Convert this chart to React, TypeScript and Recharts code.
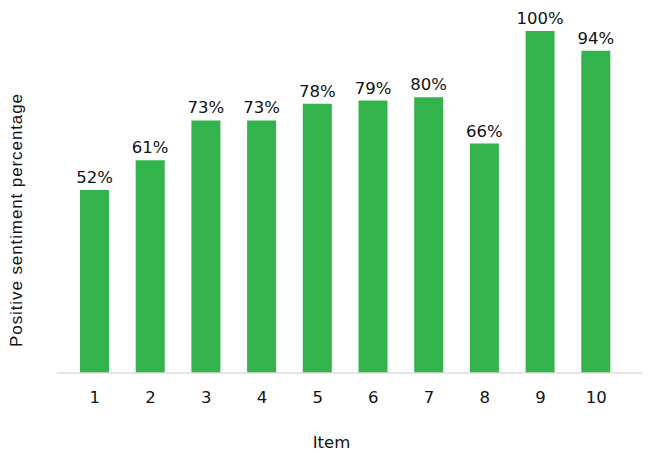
import React from "react";
import { BarChart, Bar, XAxis, YAxis, LabelList, Label } from "recharts";

const items = ["1", "2", "3", "4", "5", "6", "7", "8", "9", "10"];
const sentiment = [52, 61, 73, 73, 78, 79, 80, 66, 100, 94];
const AXIS_MIN = -3.25;
const AXIS_MAX = 100;

const data = items.map((item, i) => ({ item, value: sentiment[i] }));

const GREEN = "#33b34b";
const LABEL_FONT = "'DejaVu Sans', sans-serif";

export default function App() {
  return (
    <BarChart
      width={650}
      height={454}
      data={data}
      margin={{ top: 23, right: 16, bottom: 29, left: 49 }}
      barCategoryGap={0}
    >
      <YAxis hide domain={[AXIS_MIN, AXIS_MAX]} allowDataOverflow />
      <XAxis
        dataKey="item"
        height={60}
        padding={{ left: 10, right: 18 }}
        axisLine={{ stroke: "#dcdcdc", strokeWidth: 1.5 }}
        tickLine={false}
        tickMargin={12}
        interval={0}
        tick={{ fill: "#111", fontSize: 16.5, fontFamily: LABEL_FONT }}
      >
        <Label
          value="Item"
          position="bottom"
          offset={3}
          dx={-18}
          style={{ fill: "#111", fontSize: 16.5, fontFamily: LABEL_FONT }}
        />
      </XAxis>
      <text
        x={14}
        y={212}
        transform="rotate(-90 14 212)"
        textAnchor="middle"
        style={{ fill: "#111", fontSize: 17, fontFamily: "'Liberation Sans', Arial, sans-serif", letterSpacing: 0.9 }}
      >
        Positive sentiment percentage
      </text>
      <Bar
        dataKey={(d: { value: number }) => [AXIS_MIN, d.value]}
        fill={GREEN}
        barSize={29}
        isAnimationActive={false}
      >
        <LabelList
          dataKey="value"
          position="top"
          offset={7}
          formatter={(v: number) => `${v}%`}
          style={{ fill: "#111", fontSize: 16.5, fontFamily: LABEL_FONT }}
        />
      </Bar>
    </BarChart>
  );
}
